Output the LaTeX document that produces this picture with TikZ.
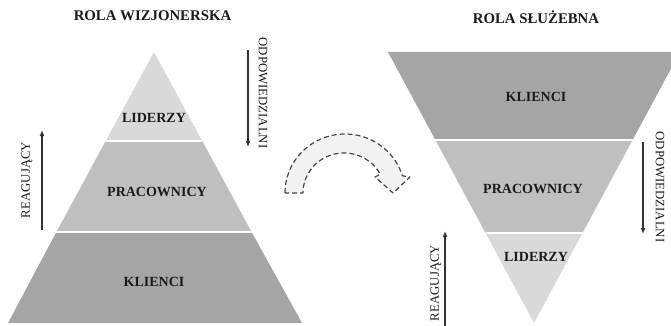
\documentclass[tikz,border=0pt]{standalone}
\usepackage{fontspec}
\setmainfont{Liberation Serif}
\usetikzlibrary{arrows.meta,calc}
\definecolor{bandlight}{HTML}{D9D9D9}
\definecolor{bandmid}{HTML}{BFBFBF}
\definecolor{banddark}{HTML}{A5A5A5}
\definecolor{txt}{HTML}{1A1A1A}
\definecolor{arrline}{HTML}{333333}
\definecolor{dashc}{HTML}{454545}
\definecolor{arrfill}{HTML}{F2F2F2}
\tikzset{
  titletext/.style={font=\fontsize{14.8}{16}\selectfont\bfseries, text=txt, inner sep=0pt},
  bandtext/.style={font=\fontsize{14}{15}\selectfont\bfseries, text=txt, inner sep=0pt},
  sidetext/.style={font=\fontsize{12.8}{14}\selectfont, text=txt, inner sep=0pt},
  sidearrow/.style={draw=arrline, line width=1.2pt, -{Latex[length=6pt,width=5pt]}},
  divider/.style={draw=white, line width=1.3pt},
  bendarrow/.style={draw=dashc, fill=arrfill, line width=1.2pt, dash pattern=on 5pt off 3pt, line join=round}
}
\begin{document}
\begin{tikzpicture}[x=1pt,y=-1pt]
\useasboundingbox (0,0) rectangle (671,326);
% ---- left pyramid ----
\fill[bandlight] (154,52) -- (105.7,141) -- (202.3,141) -- cycle;
\fill[bandmid] (105.7,141) -- (202.3,141) -- (251.6,232) -- (56.4,232) -- cycle;
\fill[banddark] (56.4,232) -- (251.6,232) -- (302,323) -- (8,323) -- cycle;
\draw[divider] (105.7,141) -- (202.3,141);
\draw[divider] (56.4,232) -- (251.6,232);
\node[titletext] (t1) at (152.5,16) {ROLA WIZJONERSKA};
\node[bandtext] (l1) at (154,118) {LIDERZY};
\node[bandtext] (p1) at (157,192) {PRACOWNICY};
\node[bandtext] (k1) at (154,282) {KLIENCI};
\coordinate (ra1s) at (42,230);
\coordinate (ra1e) at (42,130);
\draw[sidearrow] (ra1s) -- (ra1e);
\node[sidetext, rotate=90] (r1) at (27,180) {REAGUJĄCY};
\coordinate (od1s) at (248,50);
\coordinate (od1e) at (248,147);
\draw[sidearrow] (od1s) -- (od1e);
\node[sidetext, rotate=-90] (o1) at (263,93) {ODPOWIEDZIALNI};
% ---- curved arrow ----
\draw[bendarrow] (285,193)
  -- plot[domain=-180:-17, samples=50] ({345+60*cos(\x)},{193+59*sin(\x)})
  -- (410,177) -- (393,193) -- (375,177)
  -- plot[domain=-28:-180, samples=50] ({344+41*cos(\x)},{193+40*sin(\x)})
  -- cycle;
% ---- right pyramid ----
\fill[banddark] (388,52) -- (680,52) -- (632.6,140) -- (435.4,140) -- cycle;
\fill[bandmid] (435.4,140) -- (632.6,140) -- (582.5,233) -- (485.5,233) -- cycle;
\fill[bandlight] (485.5,233) -- (582.5,233) -- (534,323) -- cycle;
\draw[divider] (435.4,140) -- (632.6,140);
\draw[divider] (485.5,233) -- (582.5,233);
\node[titletext] (t2) at (536,17) {ROLA SŁUŻEBNA};
\node[bandtext] (k2) at (536,97) {KLIENCI};
\node[bandtext] (p2) at (533,189) {PRACOWNICY};
\node[bandtext] (l2) at (536,257) {LIDERZY};
\coordinate (ra2s) at (445,326);
\coordinate (ra2e) at (445,231);
\draw[sidearrow] (ra2s) -- (ra2e);
\node[sidetext, rotate=90] (r2) at (436,283) {REAGUJĄCY};
\coordinate (od2s) at (643,142);
\coordinate (od2e) at (643,234);
\draw[sidearrow] (od2s) -- (od2e);
\node[sidetext, rotate=-90] (o2) at (660,187) {ODPOWIEDZIALNI};
\end{tikzpicture}
\end{document}
